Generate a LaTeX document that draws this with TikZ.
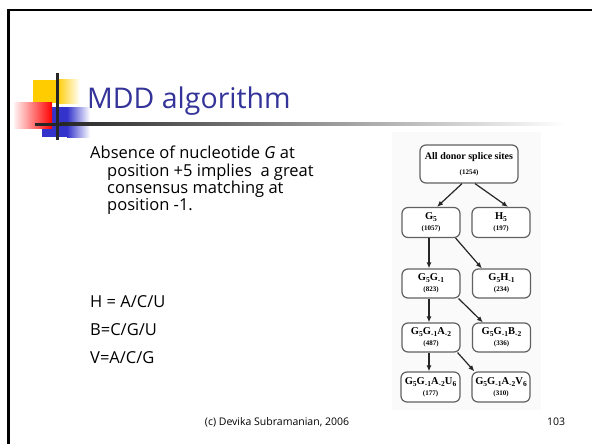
\documentclass[tikz,border=0pt]{standalone}
\usepackage{fontspec}
\setmainfont{Open Sans}
\newfontfamily\treefont{Liberation Serif}
\usetikzlibrary{arrows.meta,calc}
\definecolor{titleblue}{HTML}{333399}
\definecolor{logoyellow}{HTML}{FFCC00}
\definecolor{logored}{HTML}{FF0000}
\definecolor{logoblue}{HTML}{3333CC}
\newcommand\dsub[1]{\raisebox{-0.45ex}{\fontsize{7.5}{7.5}\selectfont #1}}
\newcommand\dnum[1]{{\fontsize{7}{8}\selectfont #1}}
\tikzset{
  body/.style={anchor=base west, inner sep=0pt, font=\fontsize{16.5}{18}\selectfont},
  tbox/.style={draw=black!62, line width=1.2pt, rounded corners=6pt, fill=white,
    minimum width=58pt, minimum height=30pt, inner sep=0pt, align=center,
    font=\treefont\bfseries\fontsize{10.5}{11}\selectfont},
  tarrow/.style={draw=black!85, line width=1.2pt, -{Latex[length=6pt,width=5pt]}}
}
\begin{document}
\begin{tikzpicture}[x=1pt,y=-1pt]
\useasboundingbox (0,0) rectangle (592,444);
\fill[white] (0,0) rectangle (592,444);
% slide border
\draw[line width=2.6pt, black] (8.5,444) -- (8.5,10) -- (592,10);
% logo
\fill[logoyellow] (33,80) rectangle (57,103);
\shade[left color=logoyellow, right color=white] (57,80) rectangle (80,103);
\fill[logoblue] (42,107) rectangle (67,137);
\shade[left color=logoblue, right color=white] (67,107) rectangle (90,137);
\shade[left color=logored!5, right color=logored] (14,102) rectangle (52,128);
\draw[line width=3pt, black!85] (57,73) -- (57,140);
\fill[black!85] (35,122.5) rectangle (60,125.5);
\shade[left color=black!85, right color=white] (60,122.5) rectangle (565,125.5);
% title
\node[anchor=base west, inner sep=0pt, text=titleblue, font=\fontsize{28.5}{32}\selectfont] (title) at (87,108) {MDD algorithm};
% body text
\node[body] (b1) at (90,158) {Absence of nucleotide \textit{G} at};
\node[body] (b2) at (107,176) {position +5 implies\ \ a great};
\node[body] (b3) at (107,193) {consensus matching at};
\node[body] (b4) at (107,210) {position -1.};
\node[body] (h) at (90,307) {H = A/C/U};
\node[body] (bb) at (90,335) {B=C/G/U};
\node[body] (v) at (90,363) {V=A/C/G};
% footer
\node[anchor=base, inner sep=0pt, font=\fontsize{10.5}{12}\selectfont] (foot) at (277,425) {(c) Devika Subramanian, 2006};
\node[anchor=base west, inner sep=0pt, font=\fontsize{10.5}{12}\selectfont] (page) at (547,425) {103};
% figure background
\fill[black!2] (392,132) rectangle (541,410);
% tree
\node[tbox, minimum width=98pt, minimum height=38pt] (root) at (469,164) {{\fontsize{10}{11}\selectfont All donor splice sites}\\[4pt]\dnum{(1254)}};
\node[tbox] (g5) at (431,222.5) {G\dsub{5}\\[0pt]\dnum{(1057)}};
\node[tbox] (h5) at (501,222.5) {H\dsub{5}\\[0pt]\dnum{(197)}};
\node[tbox, minimum height=29pt] (g5g) at (431,283.5) {G\dsub{5}G\dsub{-1}\\[0pt]\dnum{(823)}};
\node[tbox, minimum height=29pt] (g5h) at (501.5,283.5) {G\dsub{5}H\dsub{-1}\\[0pt]\dnum{(234)}};
\node[tbox, minimum height=29pt] (a2) at (431,337.5) {G\dsub{5}G\dsub{-1}A\dsub{-2}\\[0pt]\dnum{(487)}};
\node[tbox, minimum height=29pt] (b2) at (501.5,337.5) {G\dsub{5}G\dsub{-1}B\dsub{-2}\\[0pt]\dnum{(336)}};
\node[tbox, minimum width=59pt] (u6) at (430.5,387) {G\dsub{5}G\dsub{-1}A\dsub{-2}U\dsub{6}\\[0pt]\dnum{(177)}};
\node[tbox] (v6) at (501,387) {G\dsub{5}G\dsub{-1}A\dsub{-2}V\dsub{6}\\[0pt]\dnum{(310)}};
% connectors
\draw[tarrow] ([xshift=-7pt]root.south) -- ([xshift=6pt]g5.north);
\draw[tarrow] ([xshift=6pt]root.south) -- ([xshift=7pt]h5.north);
\draw[tarrow] ([xshift=-2pt]g5.south) -- ([xshift=-2pt]g5g.north);
\draw[tarrow] ([xshift=-5pt]g5.south east) -- ([xshift=10pt]g5h.north west);
\draw[tarrow] ([xshift=-2pt]g5g.south) -- ([xshift=-2pt]a2.north);
\draw[tarrow] ([xshift=-2pt]g5g.south east) -- ([xshift=11pt]b2.north west);
\draw[tarrow] ([xshift=-2pt]a2.south) -- ([xshift=-1.5pt]u6.north);
\draw[tarrow] ([xshift=-3pt]a2.south east) -- ([xshift=3pt]v6.north west);
\end{tikzpicture}
\end{document}
